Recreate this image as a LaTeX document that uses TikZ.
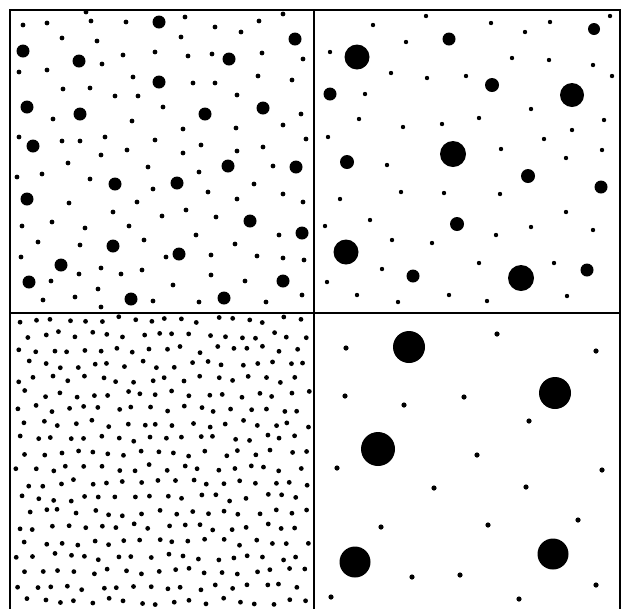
\documentclass[tikz,border=0pt]{standalone}
\usepackage{tikz}

\begin{document}
\begin{tikzpicture}[
x=0.025cm, y=-0.025cm,
frame/.style={
    draw=black,
    line width=1.4pt
},
dot/.style={
    fill=black
}
]
\useasboundingbox (0,0) rectangle (623,608);
\clip (0,0) rectangle (623,608);
\fill[white] (0,0) rectangle (623,608);

% four panels
\draw [frame] (10,630) -- (10,10) -- (620,10) -- (620,630);
\draw [frame] (314,10) -- (314,630);
\draw [frame] (10,313) -- (620,313);

% top left: many medium dots among fine ones
\foreach \x/\y in {159/22, 295/39, 23/51, 79/61, 229/59, 159/82, 27/107, 80/114,
    205/114, 263/108, 33/146, 228/166, 296/167, 115/184, 177/183, 27/199, 250/221,
    302/233, 113/246, 179/254, 61/265, 29/282, 283/281, 131/299, 224/298}
    \fill [dot] (\x,\y) circle (6.5);
\foreach \x/\y in {23/25, 47/23, 91/21, 126/22, 185/17, 215/27, 259/21, 283/14,
    241/32, 62/38, 97/41, 181/37, 123/55, 155/52, 188/56, 212/54, 262/53, 303/59,
    102/64, 19/72, 47/70, 133/77, 193/83, 215/83, 258/76, 292/80, 63/89, 90/88,
    115/96, 138/96, 237/95, 163/107, 53/119, 132/121, 301/114, 183/129, 236/128,
    283/125, 19/137, 62/141, 80/141, 105/137, 155/140, 201/145, 263/147, 306/139,
    127/150, 101/155, 183/153, 237/151, 68/163, 148/167, 273/166, 17/177, 42/174,
    90/179, 199/172, 254/184, 153/189, 208/192, 69/203, 137/202, 237/199, 283/194,
    303/202, 113/212, 162/216, 186/210, 216/217, 22/226, 52/222, 85/228, 129/226,
    196/235, 279/235, 38/242, 80/245, 144/240, 235/244, 21/257, 166/257, 211/255,
    257/256, 283/258, 304/260, 101/268, 79/274, 121/274, 142/270, 211/275, 51/281,
    173/285, 245/281, 98/289, 43/300, 75/297, 153/301, 199/302, 266/302, 302/295,
    101/307, 86/12}
    \fill [dot] (\x,\y) circle (2.4);

% top right: fewer dots, some large
\foreach \x/\y/\r in {357/57/12.5, 449/39/6.5, 594/29/6, 330/94/6.5, 492/85/7,
    572/95/12, 453/154/13, 347/162/7, 528/176/7, 601/187/6.5, 457/224/7,
    346/252/12.5, 413/276/6.5, 521/278/13, 587/270/6.5}
    \fill [dot] (\x,\y) circle (\r);
\foreach \x/\y in {373/25, 426/16, 491/23, 525/32, 550/22, 610/16, 330/52, 406/42,
    512/58, 549/60, 593/65, 391/73, 427/78, 466/76, 612/76, 365/94, 531/109,
    359/119, 403/127, 442/124, 479/118, 572/130, 604/120, 328/137, 501/149,
    544/139, 566/158, 602/150, 387/165, 340/199, 401/192, 444/193, 500/194,
    566/212, 325/226, 370/220, 531/227, 593/230, 392/240, 432/243, 496/235,
    382/269, 479/263, 554/263, 327/282, 357/295, 398/302, 449/295, 487/301, 567/296}
    \fill [dot] (\x,\y) circle (2.2);

% bottom left: dense even field of fine dots
\pgfmathsetseed{4242}
\foreach \row in {0,...,19} {
    \foreach \col in {0,...,17} {
        \pgfmathsetmacro{\px}{19+\col*16.4+mod(\row,2)*8.2+rand*3.5}
        \pgfmathsetmacro{\py}{320+\row*14.8+rand*3.5}
        \fill [dot] (\px,\py) circle (2.4);
    }
}

% bottom right: five big dots and a few fine ones
\foreach \x/\y/\r in {409/347/16, 555/393/16, 378/449/17, 355/562/15.5, 553/554/15.5}
    \fill [dot] (\x,\y) circle (\r);
\foreach \x/\y in {346/348, 497/334, 596/351, 345/396, 404/405, 464/397, 529/421,
    477/455, 337/468, 602/470, 434/488, 526/487, 578/520, 381/527, 488/525,
    412/577, 460/575, 596/585, 331/597, 519/599}
    \fill [dot] (\x,\y) circle (2.6);

\end{tikzpicture}
\end{document}
